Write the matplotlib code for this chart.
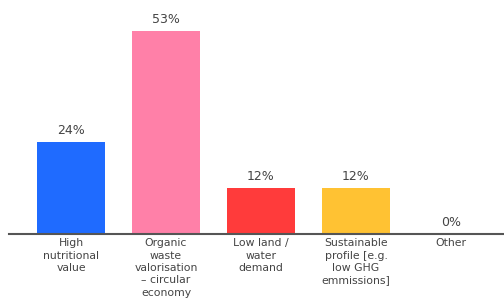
import matplotlib
matplotlib.use("Agg")
import matplotlib.pyplot as plt

categories = ["High\nnutritional\nvalue",
              "Organic\nwaste\nvalorisation\n\u2013 circular\neconomy",
              "Low land /\nwater\ndemand",
              "Sustainable\nprofile [e.g.\nlow GHG\nemmissions]",
              "Other"]
values = [24, 53, 12, 12, 0]
colors = ["#1F6BFF", "#FF80A8", "#FF3B3B", "#FFC233", "#999999"]

plt.rcParams['font.family'] = ['DejaVu Sans']

fig = plt.figure(figsize=(5.04, 2.98), dpi=100)
ax = fig.add_axes([9/504, 64/298, 495/504, 228/298])
x = list(range(len(values)))
ax.bar(x, values, width=0.72, color=colors)
for xi, v in zip(x, values):
    ax.text(xi, v + 1.3, f"{v}%", ha="center", va="bottom", fontsize=9, color="#444444")
ax.set_xlim(-0.653, 4.558)
ax.set_ylim(0, 59.5)
ax.set_xticks(x)
ax.set_xticklabels(categories, fontsize=7.8, color="#444444", linespacing=1.3)
ax.tick_params(axis="x", length=0, pad=3)
ax.set_yticks([])
for s in ["top", "right", "left"]:
    ax.spines[s].set_visible(False)
ax.spines["bottom"].set_color("#555555")
ax.spines["bottom"].set_linewidth(1.5)
fig.savefig("out.png", dpi=100)
